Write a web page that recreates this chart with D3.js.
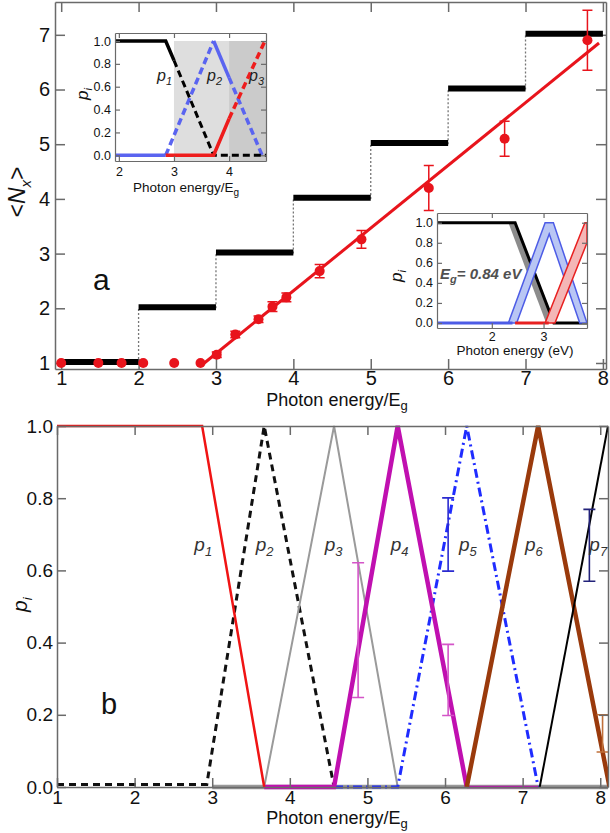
<!DOCTYPE html>
<html lang="en">
<head>
<meta charset="UTF-8">
<title>Nx vs photon energy</title>
<script src="https://d3js.org/d3.v7.min.js"></script>
<style>
  body { margin: 0; background: #fff; }
  text { font-family: "Liberation Sans", Arial, sans-serif; }
</style>
</head>
<body>
<script>
// ---- panel a data ----
var stepLevels = [1, 2, 3, 4, 5, 6, 7];
var nxX   = [1, 1.48, 1.78, 2.06, 2.46, 2.80, 3.01, 3.25, 3.55, 3.73, 3.91, 4.34, 4.88, 5.75, 6.73, 7.80];
var nxY   = [1, 1, 1, 1, 1, 1, 1.15, 1.52, 1.80, 2.03, 2.20, 2.68, 3.26, 4.20, 5.10, 6.90];
var nxErr = [0, 0, 0, 0, 0, 0, 0.05, 0.06, 0.06, 0.09, 0.08, 0.12, 0.16, 0.41, 0.32, 0.55];
var fitLine = [[2.85, 1], [7.95, 6.85]];
var aXTicks = [1, 2, 3, 4, 5, 6, 7, 8];
var aYTicks = [1, 2, 3, 4, 5, 6, 7];

// inset 1 (p_i vs photon energy/Eg)
var in1Shade = [[3, 4], [4, 4.67]];
var in1BlackSolid = [[1.93, 1], [2.85, 1], [3.0, 0.83]];
var in1BlackDash  = [[3.0, 0.83], [3.72, 0], [4.67, 0]];
var in1BlueSolidA = [[1.93, 0], [2.85, 0]];
var in1BlueDashA  = [[2.85, 0], [3.72, 1]];
var in1BlueSolidB = [[3.72, 1], [4.0, 0.68]];
var in1BlueDashB  = [[4.0, 0.68], [4.6, 0]];
var in1RedSolid   = [[2.85, 0], [3.72, 0], [4.0, 0.32]];
var in1RedDash    = [[4.0, 0.32], [4.65, 1.0]];
var in1XTicks = [2, 3, 4];
var in1YTicks = [0, 0.2, 0.4, 0.6, 0.8, 1.0];

// inset 2 (p_i vs photon energy in eV)
var in2GrayBand = [[2.32, 1], [2.46, 1], [3.2, 0], [3.05, 0]];
var in2Black = [[0.94, 1], [2.45, 1], [3.2, 0], [3.84, 0]];
var in2BlueBand = [[2.32, 0], [3.03, 1], [3.19, 1], [3.84, 0], [3.70, 0], [3.11, 0.887], [2.48, 0]];
var in2BlueBase = [[0.94, 0], [2.4, 0]];
var in2RedBand = [[3.03, 0], [3.80, 1], [3.84, 1], [3.84, 0.80], [3.22, 0]];
var in2RedBase = [[2.45, 0], [3.1, 0]];
var in2XTicks = [2, 3];
var in2YTicks = [0, 0.2, 0.4, 0.6, 0.8, 1.0];

// ---- panel b data ----
var p1 = [[1, 1], [2.87, 1], [3.67, 0]];
var p2 = [[1, 0.007], [2.93, 0.007], [3.67, 1], [4.57, 0]];
var p3 = [[3.67, 0], [4.57, 1], [5.39, 0]];
var p4 = [[3.67, 0], [4.57, 0], [5.39, 1], [6.28, 0]];
var p4Tail = [[6.28, 0], [7.2, 0]];
var p5 = [[4.57, 0], [5.39, 0], [6.28, 1], [7.2, 0]];
var p6 = [[6.28, 0], [7.2, 1], [8.12, 0]];
var p7 = [[7.22, 0], [8.1, 1]];
var baseGray = [[3, 0], [8.1, 0]];
var errX  = [4.88, 6.04, 6.04, 7.86, 8.03];
var errLo = [0.248, 0.598, 0.198, 0.570, 0.097];
var errHi = [0.621, 0.801, 0.395, 0.769, 0.200];
var pLabelX = [2.77, 3.56, 4.45, 5.30, 6.18, 7.03, 7.86];
var bXTicks = [1, 2, 3, 4, 5, 6, 7, 8];
var bYTicks = [0, 0.2, 0.4, 0.6, 0.8, 1.0];

var errColors = ["#d455c8", "#2a2ad0", "#d455c8", "#22227a", "#c0703a"];

var svg = d3.select("body").append("svg")
    .attr("width", 610)
    .attr("height", 833);

var line = function(x, y) {
    return d3.line().x(function(d) { return x(d[0]); }).y(function(d) { return y(d[1]); });
};

// draws frame with inward ticks on all four sides
function drawFrame(x, y, xt, yt, o) {
    var xr = x.range(), yr = y.range();
    var g = svg.append("g");
    g.append("g").attr("transform", "translate(0," + yr[0] + ")")
        .call(d3.axisBottom(x).tickValues(xt).tickSize(-o.tick).tickSizeOuter(0)
            .tickPadding(o.xpad).tickFormat(o.xf));
    g.append("g").attr("transform", "translate(" + xr[0] + ",0)")
        .call(d3.axisLeft(y).tickValues(yt).tickSize(-o.tick).tickSizeOuter(0)
            .tickPadding(o.ypad).tickFormat(o.yf));
    g.append("g").attr("transform", "translate(0," + yr[1] + ")")
        .call(d3.axisTop(x).tickValues(xt).tickSize(-o.tick).tickSizeOuter(0).tickFormat(""));
    g.append("g").attr("transform", "translate(" + xr[1] + ",0)")
        .call(d3.axisRight(y).tickValues(yt).tickSize(-o.tick).tickSizeOuter(0).tickFormat(""));
    g.selectAll("path, line").attr("stroke", o.color || "#6a6a6a").attr("stroke-width", o.sw || 1.5);
    g.selectAll("text").attr("fill", "#111").style("font-size", o.font + "px")
        .style("font-family", "'Liberation Sans', Arial, sans-serif");
    return g;
}

function subLabel(g, x, y, main, sub, size) {
    var t = g.append("text").attr("x", x).attr("y", y).style("font-size", size + "px").attr("fill", "#222");
    t.append("tspan").text(main).style("font-style", "italic");
    t.append("tspan").attr("dy", size * 0.28).style("font-size", (size * 0.68) + "px")
        .style("font-style", "italic").text(sub);
    return t;
}

function clip(id, xr, yr) {
    svg.append("clipPath").attr("id", id).append("rect")
        .attr("x", xr[0]).attr("y", yr[1]).attr("width", xr[1] - xr[0]).attr("height", yr[0] - yr[1]);
    return svg.append("g").attr("clip-path", "url(#" + id + ")");
}

// =================== panel a ===================
var xa = d3.scaleLinear().domain([0.92, 8.04]).range([55, 606]);
var ya = d3.scaleLinear().domain([0.89, 7.6]).range([369, 2]);

drawFrame(xa, ya, aXTicks, aYTicks, {tick: 10, xpad: 2, ypad: 5, font: 20, xf: d3.format("d"), yf: d3.format("d")});

var ga = clip("clipA", xa.range(), ya.range());

// dotted risers between steps
ga.selectAll(".riser").data(stepLevels.slice(1)).enter().append("line")
    .attr("x1", function(d) { return xa(d); }).attr("x2", function(d) { return xa(d); })
    .attr("y1", function(d) { return ya(d - 1); }).attr("y2", function(d) { return ya(d); })
    .attr("stroke", "#777").attr("stroke-width", 1.3).attr("stroke-dasharray", "2,2");

// black steps
ga.selectAll(".step").data(stepLevels).enter().append("line")
    .attr("x1", function(d) { return xa(d); }).attr("x2", function(d) { return xa(d + 1); })
    .attr("y1", function(d) { return ya(d + 0.02); }).attr("y2", function(d) { return ya(d + 0.02); })
    .attr("stroke", "#000").attr("stroke-width", 6);

// fit line
ga.append("path").datum(fitLine).attr("d", line(xa, ya))
    .attr("fill", "none").attr("stroke", "#e8141c").attr("stroke-width", 3);

// error bars + points
var idx = d3.range(nxX.length);
ga.selectAll(".eb").data(idx.filter(function(i) { return nxErr[i] > 0; })).enter().append("path")
    .attr("d", function(i) {
        var cx = xa(nxX[i]), t = ya(nxY[i] + nxErr[i]), b = ya(nxY[i] - nxErr[i]);
        return "M" + (cx - 5) + "," + t + "H" + (cx + 5) + "M" + cx + "," + t + "V" + b +
            "M" + (cx - 5) + "," + b + "H" + (cx + 5);
    })
    .attr("fill", "none").attr("stroke", "#e8141c").attr("stroke-width", 1.5);

ga.selectAll(".pt").data(idx).enter().append("circle")
    .attr("cx", function(i) { return xa(nxX[i]); })
    .attr("cy", function(i) { return ya(nxY[i]); })
    .attr("r", 5).attr("fill", "#e8141c");

// panel a labels
svg.append("text").attr("x", 93).attr("y", 290).style("font-size", "30px").attr("fill", "#111").text("a");

var nxLab = svg.append("text").attr("transform", "translate(25,192) rotate(-90)")
    .attr("text-anchor", "middle").style("font-size", "23px").attr("fill", "#111");
nxLab.append("tspan").text("<");
nxLab.append("tspan").style("font-style", "italic").text("N");
nxLab.append("tspan").attr("dy", 6).style("font-size", "15px").style("font-style", "italic").text("x");
nxLab.append("tspan").attr("dy", -6).text(">");

var xLabA = svg.append("text").attr("x", 337).attr("y", 406).attr("text-anchor", "middle")
    .style("font-size", "18px").attr("fill", "#111");
xLabA.append("tspan").text("Photon energy/E");
xLabA.append("tspan").attr("dy", 4).style("font-size", "13px").text("g");

// ---------- inset 1 ----------
var x1 = d3.scaleLinear().domain([1.93, 4.67]).range([115, 266]);
var y1 = d3.scaleLinear().domain([-0.05, 1.07]).range([161, 33]);
svg.append("rect").attr("x", 115).attr("y", 33).attr("width", 151).attr("height", 128).attr("fill", "#fff");
var g1 = clip("clip1", x1.range(), y1.range());
g1.selectAll(".shade").data(in1Shade).enter().append("rect")
    .attr("x", function(d) { return x1(d[0]); })
    .attr("width", function(d) { return x1(d[1]) - x1(d[0]); })
    .attr("y", y1(1.0)).attr("height", y1(-0.05) - y1(1.0))
    .attr("fill", function(d, i) { return i === 0 ? "#dedede" : "#cbcbcb"; });

function inLine(g, data, color, dash, w) {
    g.append("path").datum(data).attr("d", line(x1, y1)).attr("fill", "none")
        .attr("stroke", color).attr("stroke-width", w || 3.5)
        .attr("stroke-dasharray", dash ? "7,4" : null);
}
inLine(g1, in1BlueSolidA, "#5a64f0", false);
inLine(g1, in1BlueDashA, "#5a64f0", true);
inLine(g1, in1BlueSolidB, "#5a64f0", false);
inLine(g1, in1BlueDashB, "#5a64f0", true);
inLine(g1, in1BlackSolid, "#000", false);
inLine(g1, in1BlackDash, "#000", true, 3);
inLine(g1, in1RedSolid, "#ee1c1c", false);
inLine(g1, in1RedDash, "#ee1c1c", true);

drawFrame(x1, y1, in1XTicks, in1YTicks, {tick: 5, xpad: 6, ypad: 4, font: 12.5, sw: 1.2,
    xf: d3.format("d"), yf: d3.format(".1f")});

subLabel(svg, 157, 81, "p", "1", 16);
subLabel(svg, 207, 81, "p", "2", 16);
subLabel(svg, 249, 81, "p", "3", 16);

var piLab1 = svg.append("text").attr("transform", "translate(88,100) rotate(-90)")
    .style("font-size", "17px").attr("fill", "#111");
piLab1.append("tspan").style("font-style", "italic").text("p");
piLab1.append("tspan").attr("dy", 4).style("font-size", "11px").style("font-style", "italic").text("i");

var xLab1 = svg.append("text").attr("x", 186).attr("y", 192).attr("text-anchor", "middle")
    .style("font-size", "13.5px").attr("fill", "#111");
xLab1.append("tspan").text("Photon energy/E");
xLab1.append("tspan").attr("dy", 4).style("font-size", "10px").text("g");

// ---------- inset 2 ----------
var x2 = d3.scaleLinear().domain([0.94, 3.84]).range([437, 587]);
var y2 = d3.scaleLinear().domain([-0.05, 1.097]).range([328, 213]);
svg.append("rect").attr("x", 437).attr("y", 213).attr("width", 150).attr("height", 115).attr("fill", "#fff");
var g2 = clip("clip2", x2.range(), y2.range());
var poly = function(d) { return "M" + d.map(function(p) { return x2(p[0]) + "," + y2(p[1]); }).join("L") + "Z"; };

g2.append("path").attr("d", poly(in2GrayBand)).attr("fill", "#8c8c8c").attr("stroke", "none");
g2.append("path").datum(in2Black).attr("d", line(x2, y2)).attr("fill", "none")
    .attr("stroke", "#000").attr("stroke-width", 3);
g2.append("path").attr("d", poly(in2BlueBand)).attr("fill", "#b9c6f4").attr("stroke", "#4d5ce6").attr("stroke-width", 1.5);
g2.append("path").datum(in2BlueBase).attr("d", line(x2, y2)).attr("fill", "none")
    .attr("stroke", "#4d5ce6").attr("stroke-width", 3);
g2.append("path").attr("d", poly(in2RedBand)).attr("fill", "#f4b6b6").attr("stroke", "#e82020").attr("stroke-width", 1.5);
g2.append("path").datum(in2RedBase).attr("d", line(x2, y2)).attr("fill", "none")
    .attr("stroke", "#e82020").attr("stroke-width", 3);

drawFrame(x2, y2, in2XTicks, in2YTicks, {tick: 5, xpad: 4, ypad: 4, font: 12.5, sw: 1.2,
    xf: d3.format("d"), yf: d3.format(".1f")});

var eg = svg.append("text").attr("x", 440).attr("y", 279).style("font-size", "15px")
    .style("font-weight", "bold").style("font-style", "italic").attr("fill", "#505050");
eg.append("tspan").text("E");
eg.append("tspan").attr("dy", 4).style("font-size", "11px").text("g");
eg.append("tspan").attr("dy", -4).text("= 0.84 eV");

var piLab2 = svg.append("text").attr("transform", "translate(402,282) rotate(-90)")
    .style("font-size", "17px").attr("fill", "#111");
piLab2.append("tspan").style("font-style", "italic").text("p");
piLab2.append("tspan").attr("dy", 4).style("font-size", "11px").style("font-style", "italic").text("i");

svg.append("text").attr("x", 515).attr("y", 355).attr("text-anchor", "middle")
    .style("font-size", "13.5px").attr("fill", "#111").text("Photon energy (eV)");

// =================== panel b ===================
var xb = d3.scaleLinear().domain([1, 8.1]).range([57, 608]);
var yb = d3.scaleLinear().domain([0, 1]).range([787, 426]);

var gb = clip("clipB", xb.range(), [790, 423]);

function bLine(data, color, w, dash) {
    gb.append("path").datum(data).attr("d", line(xb, yb)).attr("fill", "none")
        .attr("stroke", color).attr("stroke-width", w)
        .attr("stroke-dasharray", dash || null);
}
bLine(baseGray, "#999", 4.5);
bLine(p2, "#111", 3, "7,5");
bLine(p3, "#9a9a9a", 2);
bLine(p5, "#1f2cff", 3, "9,4,2,4");
bLine(p4Tail, "#c010b0", 2.5);
bLine(p4, "#c010b0", 4.5);
bLine(p6, "#9a3a0c", 4.5);
bLine(p7, "#000", 2);
bLine(p1, "#f01414", 2.5);

gb.selectAll(".ebb").data(d3.range(errX.length)).enter().append("path")
    .attr("d", function(i) {
        var cx = xb(errX[i]), t = yb(errHi[i]), b = yb(errLo[i]);
        return "M" + (cx - 6) + "," + t + "H" + (cx + 6) + "M" + cx + "," + t + "V" + b +
            "M" + (cx - 6) + "," + b + "H" + (cx + 6);
    })
    .attr("fill", "none").attr("stroke", function(i) { return errColors[i]; }).attr("stroke-width", 1.6);

drawFrame(xb, yb, bXTicks, bYTicks, {tick: 9, xpad: 4, ypad: 4, font: 19,
    xf: d3.format("d"), yf: d3.format(".1f")});

pLabelX.forEach(function(v, i) {
    subLabel(svg, xb(v), 551, "p", String(i + 1), 19).attr("fill", "#333");
});

svg.append("text").attr("x", 101).attr("y", 714).style("font-size", "29px").attr("fill", "#111").text("b");

var piLabB = svg.append("text").attr("transform", "translate(27,612) rotate(-90)")
    .style("font-size", "21px").attr("fill", "#111");
piLabB.append("tspan").style("font-style", "italic").text("p");
piLabB.append("tspan").attr("dy", 5).style("font-size", "13px").style("font-style", "italic").text("i");

var xLabB = svg.append("text").attr("x", 337).attr("y", 824).attr("text-anchor", "middle")
    .style("font-size", "18px").attr("fill", "#111");
xLabB.append("tspan").text("Photon energy/E");
xLabB.append("tspan").attr("dy", 4).style("font-size", "13px").text("g");
</script>
</body>
</html>
